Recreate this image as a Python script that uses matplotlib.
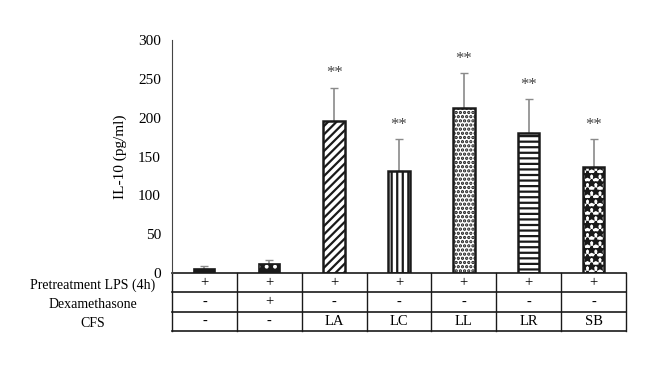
import numpy as np
import matplotlib as mpl
mpl.use('Agg')
import matplotlib.pyplot as plt

mpl.rcParams['font.family'] = 'Liberation Serif'
mpl.rcParams['hatch.linewidth'] = 1.6

groups = ['Control', 'Dex', 'LA', 'LC', 'LL', 'LR', 'SB']
values = [5, 11, 196, 131, 212, 180, 136]
errors = [4, 6, 43, 42, 46, 44, 37]
sig = ['', '', '**', '**', '**', '**', '**']
hatches = ['', '..', '////', '|||', '....', '---', '**']
row_labels = ['Pretreatment LPS (4h)', 'Dexamethasone', 'CFS']
rows = [['+', '+', '+', '+', '+', '+', '+'],
        ['-', '+', '-', '-', '-', '-', '-'],
        ['-', '-', 'LA', 'LC', 'LL', 'LR', 'SB']]

fig = plt.figure(figsize=(6.6, 3.65), dpi=100)
ax = fig.add_axes([0.2606, 0.252, 0.688, 0.638])
x = np.arange(len(groups))
w = 0.33
dark = '#1a1a1a'

ax.errorbar(x, values, yerr=[np.zeros(len(values)), errors], fmt='none',
            ecolor='#8a8a8a', elinewidth=1.2, capsize=3, capthick=1.0, zorder=1)

for i in range(len(groups)):
    if i == 0:
        ax.bar(x[i], values[i], w, color=dark, edgecolor=dark, lw=1.2, zorder=2)
    elif i == 1:
        ax.bar(x[i], values[i], w, color=dark, edgecolor='white', hatch=hatches[i], lw=0, zorder=2)
        ax.bar(x[i], values[i], w, fill=False, edgecolor=dark, lw=1.2, zorder=3)
    else:
        ax.bar(x[i], values[i], w, color='white', edgecolor=dark, hatch=hatches[i], lw=1.8, zorder=2)
    if sig[i]:
        ax.text(x[i], values[i] + errors[i] + 8, sig[i], ha='center', va='bottom',
                fontsize=12, color='#444444')

ax.set_xlim(-0.5, 6.5)
ax.set_ylim(0, 300)
ax.set_yticks(range(0, 301, 50))
ax.tick_params(axis='y', length=0, labelsize=11, pad=8)
ax.set_xticks([])
for s in ['top', 'right', 'bottom']:
    ax.spines[s].set_visible(False)
ax.spines['left'].set_color('#444444')
ax.set_ylabel('IL-10 (pg/ml)', fontsize=11, labelpad=8)

# table under the axis
trans = ax.get_xaxis_transform()
row_h = 0.083
for r in range(4):
    ax.plot([-0.5, 6.5], [-r * row_h] * 2, color=dark, lw=1.2, transform=trans, clip_on=False)
for c in range(8):
    ax.plot([c - 0.5] * 2, [0, -3 * row_h], color=dark, lw=1.0, transform=trans, clip_on=False)
for r in range(3):
    yc = -(r + 0.5) * row_h
    for c in range(7):
        ax.text(c, yc, rows[r][c], ha='center', va='center', fontsize=10.5,
                transform=trans, clip_on=False)
    fig.text(93 / 660, 1 - (285 + r * 19.3) / 365, row_labels[r], ha='center',
             va='center', fontsize=10)

plt.savefig('out.png', dpi=100)
